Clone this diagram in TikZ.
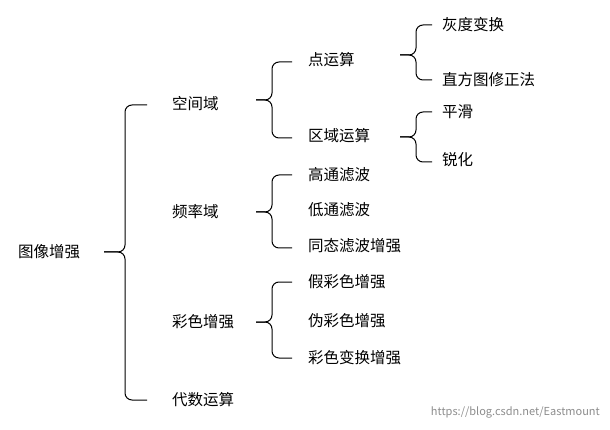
\documentclass[tikz,border=0pt]{standalone}
\usepackage{fontspec}
\setmainfont{Noto Sans CJK SC}
\begin{document}
\begin{tikzpicture}[x=1pt,y=-1pt,
  lbl/.style={anchor=west,inner sep=0pt,font=\fontsize{15.5}{17}\selectfont},
  br/.style={draw=black,line width=1pt,rounded corners=7pt}]
\useasboundingbox (0,0) rectangle (610,430);
\def\Brace#1#2#3#4#5#6{%
  \draw[br] (#3,#4) -- (#2,#4) -- (#2,#5) -- (#1,#5);
  \draw[br] (#3,#6) -- (#2,#6) -- (#2,#5) -- (#1,#5);}
\node[lbl] (root) at (18,252) {图像增强};
\node[lbl] (a) at (172,104) {空间域};
\node[lbl] (b) at (172,212) {频率域};
\node[lbl] (c) at (172,322) {彩色增强};
\node[lbl] (d) at (172,400) {代数运算};
\node[lbl] (a1) at (308,60) {点运算};
\node[lbl] (a2) at (308,136) {区域运算};
\node[lbl] (a11) at (442,25) {灰度变换};
\node[lbl] (a12) at (442,80) {直方图修正法};
\node[lbl] (a21) at (442,112) {平滑};
\node[lbl] (a22) at (442,160) {锐化};
\node[lbl] (b1) at (308,175) {高通滤波};
\node[lbl] (b2) at (308,210) {低通滤波};
\node[lbl] (b3) at (308,246) {同态滤波增强};
\node[lbl] (c1) at (308,282) {假彩色增强};
\node[lbl] (c2) at (308,321) {伪彩色增强};
\node[lbl] (c3) at (308,358) {彩色变换增强};
\Brace{104}{125}{147}{105}{252}{400}
\Brace{256}{272}{292}{62}{100}{138}
\Brace{256}{272}{292}{175}{212}{248}
\Brace{256}{272}{292}{282}{322}{358}
\Brace{400}{416}{432}{25}{55}{80}
\Brace{400}{416}{432}{112}{137}{162}
\node[anchor=east,inner sep=0pt,text=black!45,font=\fontsize{11}{13}\selectfont] (wm) at (600,412) {https://blog.csdn.net/Eastmount};
\end{tikzpicture}
\end{document}
